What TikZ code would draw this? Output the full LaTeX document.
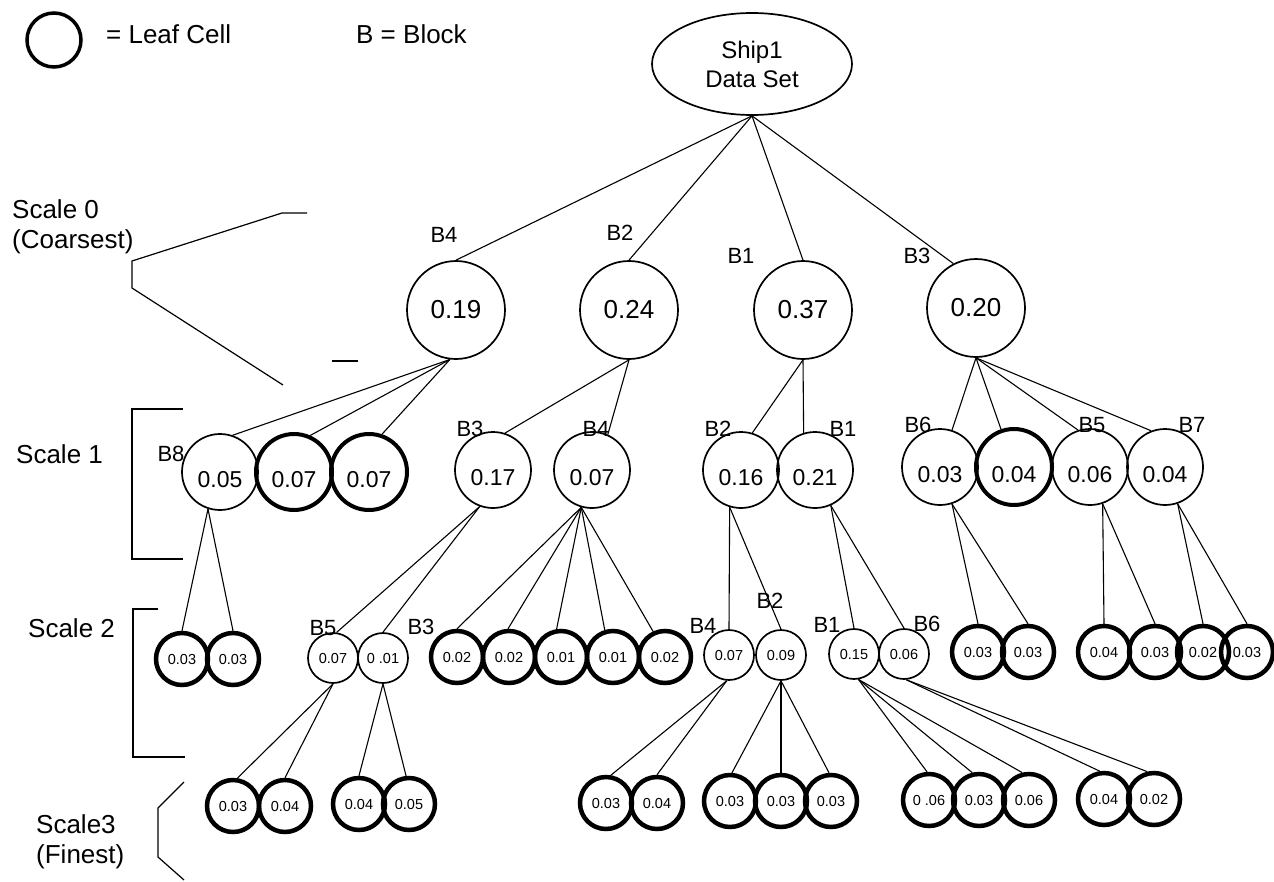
\documentclass[tikz,border=0pt]{standalone}
\usepackage{fontspec}
\setmainfont{Liberation Sans}
\usetikzlibrary{shapes.geometric}

\tikzset{
	edge/.style={line width=1.1pt},
	bracket/.style={line width=1.2pt},
	legtext/.style={inner sep=0pt, anchor=west, align=left, font=\fontsize{26}{30}\selectfont},
	blabel/.style={inner sep=0pt, font=\fontsize{22}{22}\selectfont},
	bigblock/.style={circle, draw, line width=1.7pt, minimum size=98pt, inner sep=0pt, font=\fontsize{26}{26}\selectfont},
	midblock/.style={circle, draw, line width=1.7pt, minimum size=76pt, inner sep=0pt, text height=30pt, text depth=0pt, font=\fontsize{23}{23}\selectfont},
	midleaf/.style={midblock, line width=4pt},
	smallblock/.style={circle, draw, line width=1.7pt, minimum size=50pt, inner sep=0pt, font=\fontsize{14.5}{14.5}\selectfont},
	smallleaf/.style={smallblock, line width=4.5pt, minimum size=52pt}
}

\begin{document}
\begin{tikzpicture}[x=1pt, y=-1pt]
			\useasboundingbox (0,0) rectangle (1274,881);
			
			%%%%% LEGEND %%%%%
			\node[circle, draw, line width=3.5pt, minimum size=54pt] (legcell) at (54,40) {};
			\node[legtext] (legleaf) at (106,34) {= Leaf Cell};
			\node[legtext] (legblock) at (356,34) {B = Block};
			
			%%%%% SCALES %%%%%
			\node[legtext] (sc0) at (12,227) {Scale 0\\(Coarsest)};
			\node[legtext] (sc1) at (16,454) {Scale 1};
			\node[legtext] (sc2) at (28,628) {Scale 2};
			\node[legtext] (sc3) at (36,842) {Scale3\\(Finest)};
			
			\draw[bracket] (307,213) -- (282,213) -- (132,261) -- (132,288) -- (283,385);
			\draw[bracket] (332,361) -- (358,361);
			\draw[bracket] (183,409) -- (132,409) -- (132,559) -- (183,559);
			\draw[bracket] (158,609) -- (133,609) -- (133,757) -- (185,757);
			\draw[bracket] (184,782) -- (158,808) -- (158,857) -- (184,880);
			
			%%%%% ROOT %%%%%
			\node[ellipse, draw, line width=1.7pt, minimum width=200pt, minimum height=102pt, inner sep=0pt, align=center, font=\fontsize{24}{29}\selectfont] (root) at (752,64) {Ship1\\Data Set};
			
			%%%%% SCALE 0 %%%%%
			\node[blabel] (l0a) at (444,235) {B4};
			\node[blabel] (l0b) at (620,233) {B2};
			\node[blabel] (l0c) at (741,256) {B1};
			\node[blabel] (l0d) at (917,256) {B3};
			
			\node[bigblock] (s0a) at (456,310) {0.19};
			\node[bigblock] (s0b) at (629,310) {0.24};
			\node[bigblock] (s0c) at (803,310) {0.37};
			\node[bigblock] (s0d) at (976,308) {0.20};
			
			\draw[edge] (root.south) -- (s0a.north);
			\draw[edge] (root.south) -- (s0b.north);
			\draw[edge] (root.south) -- (s0c.north);
			\draw[edge] (root.south) -- (s0d.117);
			
			%%%%% SCALE 1 %%%%%
			\node[blabel] (l1a) at (171,454) {B8};
			\node[blabel] (l1d) at (470,429) {B3};
			\node[blabel] (l1e) at (596,429) {B4};
			\node[blabel] (l1f) at (718,429) {B2};
			\node[blabel] (l1g) at (843,429) {B1};
			\node[blabel] (l1h) at (918,425) {B6};
			\node[blabel] (l1j) at (1092,425) {B5};
			\node[blabel] (l1k) at (1192,425) {B7};
			
			\node[midblock] (s1a) at (220,472) {0.05};
			\node[midleaf] (s1b) at (294,472) {0.07};
			\node[midleaf] (s1c) at (369,472) {0.07};
			\node[midblock] (s1d) at (493,470) {0.17};
			\node[midblock] (s1e) at (592,470) {0.07};
			\node[midblock] (s1f) at (741,470) {0.16};
			\node[midblock] (s1g) at (815,470) {0.21};
			\node[midblock] (s1h) at (940,467) {0.03};
			\node[midleaf] (s1i) at (1014,467) {0.04};
			\node[midblock] (s1j) at (1090,467) {0.06};
			\node[midblock] (s1k) at (1165,467) {0.04};
			
			\draw[edge] (s0a.-97) -- (s1a.71);
			\draw[edge] (s0a.-97) -- (s1b.66);
			\draw[edge] (s0a.-97) -- (s1c.71);
			\draw[edge] (s0b.south) -- (s1d.72);
			\draw[edge] (s0b.south) -- (s1e.66);
			\draw[edge] (s0c.south) -- (s1f.73);
			\draw[edge] (s0c.south) -- (s1g.107);
			\draw[edge] (s0d.south) -- (s1h.72);
			\draw[edge] (s0d.south) -- (s1i.109);
			\draw[edge] (s0d.south) -- (s1j.108);
			\draw[edge] (s0d.south) -- (s1k.111);
			
			%%%%% SCALE 2 %%%%%
			\node[blabel] (l2c) at (323,628) {B5};
			\node[blabel] (l2d) at (421,627) {B3};
			\node[blabel] (l2j) at (703,626) {B4};
			\node[blabel] (l2k) at (770,601) {B2};
			\node[blabel] (l2l) at (827,625) {B1};
			\node[blabel] (l2m) at (927,624) {B6};
			
			\node[smallleaf] (s2a) at (182,659) {0.03};
			\node[smallleaf] (s2b) at (233,659) {0.03};
			\node[smallblock] (s2c) at (333,658) {0.07};
			\node[smallblock] (s2d) at (383,658) {0 .01};
			\node[smallleaf] (s2e) at (457,657) {0.02};
			\node[smallleaf] (s2f) at (509,657) {0.02};
			\node[smallleaf] (s2g) at (561,657) {0.01};
			\node[smallleaf] (s2h) at (613,657) {0.01};
			\node[smallleaf] (s2i) at (665,657) {0.02};
			\node[smallblock] (s2j) at (729,655) {0.07};
			\node[smallblock] (s2k) at (781,655) {0.09};
			\node[smallblock] (s2l) at (854,654) {0.15};
			\node[smallblock] (s2m) at (904,654) {0.06};
			\node[smallleaf] (s2n) at (978,652) {0.03};
			\node[smallleaf] (s2o) at (1028,652) {0.03};
			\node[smallleaf] (s2p) at (1104,652) {0.04};
			\node[smallleaf] (s2q) at (1155,652) {0.03};
			\node[smallleaf] (s2r) at (1203,652) {0.02};
			\node[smallleaf] (s2s) at (1247,652) {0.03};
			
			\draw[edge] (s1a.-108) -- (s2a.north);
			\draw[edge] (s1a.-108) -- (s2b.north);
			\draw[edge] (s1d.-110) -- (s2c.82);
			\draw[edge] (s1d.-110) -- (s2d.north);
			\draw[edge] (s1e.-106) -- (s2e.north);
			\draw[edge] (s1e.-106) -- (s2f.92);
			\draw[edge] (s1e.-106) -- (s2g.99);
			\draw[edge] (s1e.-106) -- (s2h.107);
			\draw[edge] (s1e.-106) -- (s2i.115);
			\draw[edge] (s1f.-107) -- (s2j.north);
			\draw[edge] (s1f.-107) -- (s2k.north);
			\draw[edge] (s1g.-66) -- (s2l.north);
			\draw[edge] (s1g.-66) -- (s2m.north);
			\draw[edge] (s1h.-72) -- (s2n.north);
			\draw[edge] (s1h.-72) -- (s2o.north);
			\draw[edge] (s1j.-71) -- (s2p.north);
			\draw[edge] (s1j.-71) -- (s2q.north);
			\draw[edge] (s1k.-71) -- (s2r.north);
			\draw[edge] (s1k.-71) -- (s2s.north);
			
			%%%%% SCALE 3 %%%%%
			\node[smallleaf] (s3a) at (233,806) {0.03};
			\node[smallleaf] (s3b) at (285,806) {0.04};
			\node[smallleaf] (s3c) at (359,804) {0.04};
			\node[smallleaf] (s3d) at (409,804) {0.05};
			\node[smallleaf] (s3e) at (606,803) {0.03};
			\node[smallleaf] (s3f) at (657,803) {0.04};
			\node[smallleaf] (s3g) at (730,801) {0.03};
			\node[smallleaf] (s3h) at (781,801) {0.03};
			\node[smallleaf] (s3i) at (831,801) {0.03};
			\node[smallleaf] (s3j) at (929,800) {0 .06};
			\node[smallleaf] (s3k) at (979,800) {0.03};
			\node[smallleaf] (s3l) at (1029,800) {0.06};
			\node[smallleaf] (s3m) at (1104,799) {0.04};
			\node[smallleaf] (s3n) at (1154,799) {0.02};
			
			\draw[edge] (s2c.south) -- (s3a.81);
			\draw[edge] (s2c.south) -- (s3b.north);
			\draw[edge] (s2d.south) -- (s3c.north);
			\draw[edge] (s2d.south) -- (s3d.96);
			\draw[edge] (s2j.-95) -- (s3e.80);
			\draw[edge] (s2j.-95) -- (s3f.north);
			\draw[edge] (s2k.south) -- (s3g.86);
			\draw[edge] (s2k.south) -- (s3h.north);
			\draw[edge] (s2k.south) -- (s3i.94);
			\draw[edge] (s2l.-80) -- (s3j.94);
			\draw[edge] (s2l.-80) -- (s3k.104);
			\draw[edge] (s2l.-80) -- (s3l.104);
			\draw[edge] (s2m.-85) -- (s3m.99);
			\draw[edge] (s2m.-85) -- (s3n.104);
			
		\end{tikzpicture}
\end{document}
